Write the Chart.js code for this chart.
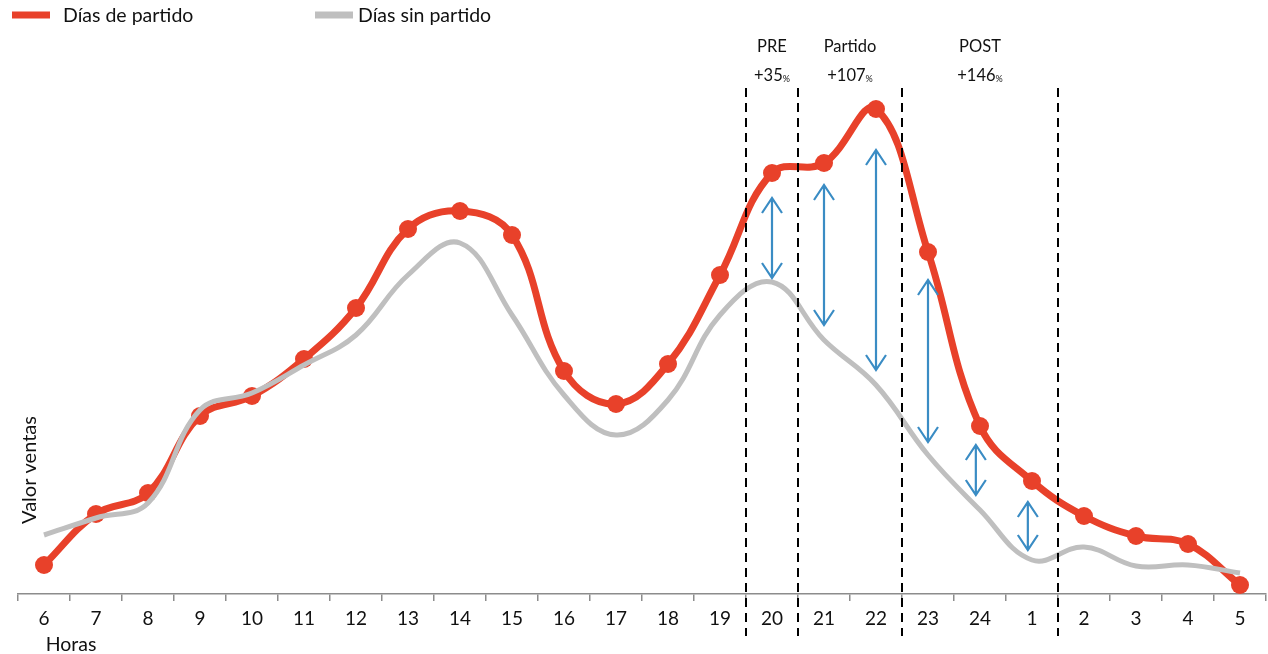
<!DOCTYPE html>
<html>
<head>
<meta charset="utf-8">
<script src="https://cdn.jsdelivr.net/npm/chart.js@4"></script>
<style>
	html, body { margin: 0; padding: 0; background: #fff; }
	canvas { display: block; }
</style>
</head>
<body>
<canvas id="chart" width="1268" height="654"></canvas>
<script>
'use strict';

var horas = ['6', '7', '8', '9', '10', '11', '12', '13', '14', '15', '16', '17', '18', '19', '20', '21', '22', '23', '24', '1', '2', '3', '4', '5'];
var diasPartido = [2.9, 8.0, 10.1, 17.8, 19.8, 23.5, 28.6, 36.5, 38.3, 35.9, 22.3, 19.0, 23.0, 31.9, 42.1, 43.1, 48.5, 34.2, 16.8, 11.3, 7.8, 5.8, 5.0, 0.9];
var diasSinPartido = [5.9, 7.6, 9.1, 18.4, 20.1, 22.9, 25.9, 31.9, 35.1, 27.9, 19.9, 15.9, 19.4, 27.9, 31.2, 25.4, 20.9, 13.9, 8.4, 3.4, 4.7, 2.8, 2.9, 2.1];

// franjas: limites (indice de categoria, se pinta la linea a mitad de paso) y textos
var limites = [13.5, 14.5, 16.5, 19.5];
var franjas = [
	{nombre: 'PRE', valor: '+35', desde: 13.5, hasta: 14.5},
	{nombre: 'Partido', valor: '+107', desde: 14.5, hasta: 16.5},
	{nombre: 'POST', valor: '+146', desde: 16.5, hasta: 19.5}
];
// flechas: [indice, valor arriba, valor abajo]
var flechas = [
	[14, 39.6, 31.6],
	[15, 40.9, 26.9],
	[16, 44.4, 22.4],
	[17, 31.4, 15.2],
	[17.92, 14.9, 9.9],
	[18.92, 9.2, 4.4]
];

var ROJO = '#e8412a';
var GRIS = '#bfbfbf';
var AZUL = '#3a8cc4';
var FUENTE = 'Lato, "Liberation Sans", sans-serif';

function dibujarFlecha(ctx, x, y1, y2) {
	var w = 10, h = 15;
	ctx.beginPath();
	ctx.moveTo(x, y1);
	ctx.lineTo(x, y2);
	ctx.moveTo(x - w, y1 + h);
	ctx.lineTo(x, y1);
	ctx.lineTo(x + w, y1 + h);
	ctx.moveTo(x - w, y2 - h);
	ctx.lineTo(x, y2);
	ctx.lineTo(x + w, y2 - h);
	ctx.stroke();
}

var anotaciones = {
	id: 'anotaciones',
	afterDatasetsDraw: function(chart) {
		var ctx = chart.ctx;
		var xs = chart.scales.x;
		var ys = chart.scales.y;
		var i, x;

		ctx.save();
		// lineas discontinuas
		ctx.strokeStyle = '#000';
		ctx.lineWidth = 2;
		ctx.setLineDash([9, 6]);
		for (i = 0; i < limites.length; i++) {
			x = Math.round(xs.getPixelForValue(limites[i]));
			ctx.beginPath();
			ctx.moveTo(x, 88);
			ctx.lineTo(x, 636);
			ctx.stroke();
		}
		ctx.setLineDash([]);

		// flechas dobles
		ctx.strokeStyle = AZUL;
		ctx.lineWidth = 2.2;
		for (i = 0; i < flechas.length; i++) {
			dibujarFlecha(ctx, xs.getPixelForValue(flechas[i][0]), ys.getPixelForValue(flechas[i][1]), ys.getPixelForValue(flechas[i][2]));
		}

		// textos de las franjas
		ctx.fillStyle = '#111';
		ctx.textBaseline = 'middle';
		for (i = 0; i < franjas.length; i++) {
			var f = franjas[i];
			x = (xs.getPixelForValue(f.desde) + xs.getPixelForValue(f.hasta)) / 2;
			ctx.font = '16.5px ' + FUENTE;
			ctx.textAlign = 'center';
			ctx.fillText(f.nombre, x, 47);
			var w1 = ctx.measureText(f.valor).width;
			ctx.font = '9px ' + FUENTE;
			var w2 = ctx.measureText('%').width;
			var x0 = x - (w1 + w2) / 2;
			ctx.textAlign = 'left';
			ctx.font = '16.5px ' + FUENTE;
			ctx.fillText(f.valor, x0, 76);
			ctx.font = '9px ' + FUENTE;
			ctx.fillText('%', x0 + w1, 79);
		}

		// titulos de ejes
		ctx.font = '19.5px ' + FUENTE;
		ctx.textAlign = 'center';
		ctx.fillText('Horas', 71, 645);
		ctx.font = '20px ' + FUENTE;
		ctx.translate(30, 470);
		ctx.rotate(-Math.PI / 2);
		ctx.fillText('Valor ventas', 0, 0);
		ctx.restore();

		// leyenda
		ctx.save();
		ctx.lineWidth = 7;
		ctx.strokeStyle = ROJO;
		ctx.beginPath();
		ctx.moveTo(12, 15);
		ctx.lineTo(50, 15);
		ctx.stroke();
		ctx.strokeStyle = GRIS;
		ctx.beginPath();
		ctx.moveTo(315, 15);
		ctx.lineTo(353, 15);
		ctx.stroke();
		ctx.fillStyle = '#111';
		ctx.font = '19.5px ' + FUENTE;
		ctx.textAlign = 'left';
		ctx.textBaseline = 'middle';
		ctx.fillText('Días de partido', 63, 16);
		ctx.fillText('Días sin partido', 358, 16);
		ctx.restore();
	}
};

var chart = new Chart(document.getElementById('chart').getContext('2d'), {
	type: 'line',
	data: {
		labels: horas,
		datasets: [{
			label: 'Días sin partido',
			data: diasSinPartido,
			borderColor: GRIS,
			borderWidth: 5,
			pointRadius: 0,
			tension: 0.4,
			fill: false
		}, {
			label: 'Días de partido',
			data: diasPartido,
			borderColor: ROJO,
			backgroundColor: ROJO,
			borderWidth: 7,
			pointRadius: 9,
			pointBorderWidth: 0,
			tension: 0.4,
			fill: false
		}]
	},
	options: {
		responsive: false,
		animation: false,
		layout: {autoPadding: false, padding: {top: 94, left: 18, right: 2, bottom: 0}},
		plugins: {legend: {display: false}, tooltip: {enabled: false}},
		scales: {
			x: {
				offset: true,
				afterFit: function(s) { s.height = 60; },
				border: {color: '#8c8c8c', width: 1.5},
				grid: {display: true, drawOnChartArea: false, drawTicks: true, tickLength: 7, color: '#8c8c8c', lineWidth: 1.5, offset: true},
				ticks: {color: '#111', font: {family: FUENTE, size: 19}, padding: 6, maxRotation: 0, autoSkip: false}
			},
			y: {display: false, min: 0, max: 50}
		}
	},
	plugins: [anotaciones]
});
</script>
</body>
</html>
